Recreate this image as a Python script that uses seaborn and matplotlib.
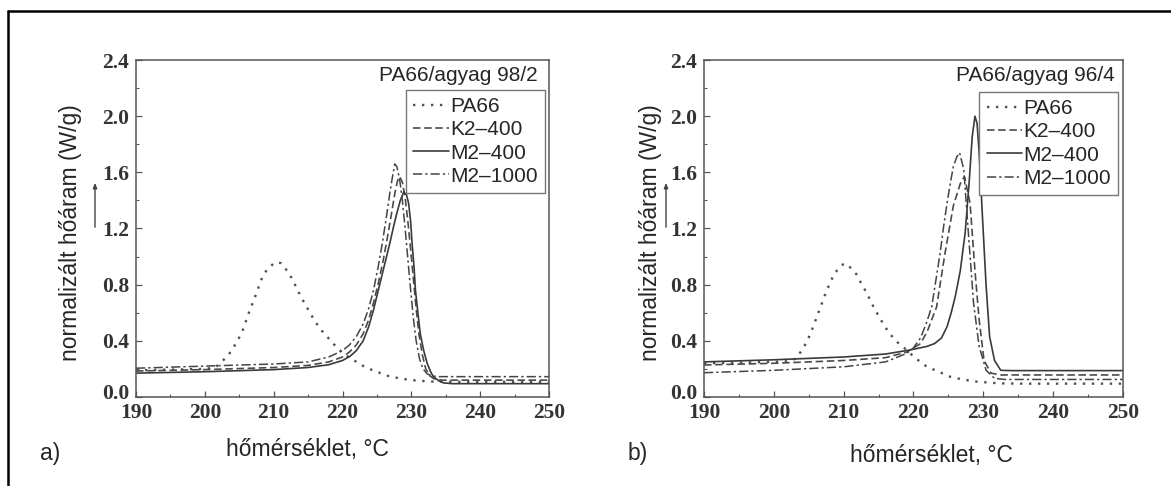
import numpy as np
import pandas as pd
import matplotlib
matplotlib.use("Agg")
import matplotlib.pyplot as plt
import matplotlib.transforms as mtrans
from matplotlib.lines import Line2D
from matplotlib.patches import FancyArrowPatch
import seaborn as sns

sns.set_style("ticks")
plt.rcParams['font.family'] = ['Liberation Sans', 'DejaVu Sans']

# --- panel a) PA66/agyag 98/2 ---
T_pa66_a = [190, 195, 200, 201.5, 202.3, 203.4, 204.2, 204.9, 205.5, 206.4, 207.3, 208.2, 208.9, 210.0, 210.5,
            211.1, 212.1, 212.8, 213.4, 214.0, 214.7, 215.4, 216.1, 217.0, 218.1, 219.2, 220.4, 221.6, 222.7,
            224.3, 226.9, 229.8, 232.7, 236, 240, 245, 250]
Y_pa66_a = [0.19, 0.195, 0.2, 0.21, 0.244, 0.297, 0.356, 0.415, 0.475, 0.600, 0.714, 0.835, 0.897, 0.952, 0.96,
            0.952, 0.890, 0.831, 0.769, 0.710, 0.650, 0.589, 0.532, 0.472, 0.411, 0.351, 0.30, 0.264, 0.228,
            0.192, 0.145, 0.121, 0.110, 0.108, 0.108, 0.108, 0.108]

T_k2_a = [190, 200, 210, 215, 218, 220, 221, 222, 223, 223.8, 224.5, 225.2, 225.9, 226.5, 227.1, 227.6, 228.0,
          228.3, 228.7, 229.1, 229.5, 229.9, 230.3, 230.7, 231.1, 231.6, 232.1, 232.7, 233.3, 234.5, 240, 250]
Y_k2_a = [0.185, 0.195, 0.21, 0.225, 0.25, 0.285, 0.32, 0.37, 0.45, 0.55, 0.67, 0.81, 0.97, 1.13, 1.30, 1.45, 1.54,
          1.57, 1.53, 1.42, 1.25, 1.05, 0.84, 0.63, 0.45, 0.30, 0.20, 0.15, 0.13, 0.12, 0.12, 0.12]

T_m2_a = [190, 200, 210, 215, 218, 220, 221.1, 222, 223.0, 223.8, 224.5, 225.1, 225.7, 226.3, 226.9, 227.4, 227.9,
          228.4, 228.9, 229.3, 229.6, 229.9, 230.1, 230.4, 230.6, 231.0, 231.3, 231.8, 232.3, 232.8, 233.2, 234.0,
          234.7, 236, 240, 250]
Y_m2_a = [0.17, 0.18, 0.195, 0.21, 0.23, 0.26, 0.29, 0.33, 0.40, 0.50, 0.62, 0.74, 0.86, 0.98, 1.10, 1.21, 1.31,
          1.40, 1.46, 1.44, 1.38, 1.25, 1.10, 0.92, 0.76, 0.58, 0.45, 0.33, 0.24, 0.18, 0.145, 0.115,
          0.10, 0.095, 0.095, 0.095]

T_m21000_a = [190, 200, 210, 215, 218, 220, 221, 222, 223, 223.8, 224.5, 225.2, 225.8, 226.4, 226.9, 227.3, 227.6,
              227.9, 228.3, 228.7, 229.1, 229.5, 229.9, 230.3, 230.7, 231.2, 231.7, 232.3, 233, 234, 240, 250]
Y_m21000_a = [0.205, 0.22, 0.235, 0.25, 0.285, 0.33, 0.37, 0.43, 0.52, 0.63, 0.76, 0.93, 1.10, 1.29, 1.46, 1.58,
              1.66, 1.64, 1.55, 1.40, 1.20, 0.98, 0.76, 0.56, 0.40, 0.27, 0.20, 0.165, 0.15, 0.145, 0.145, 0.145]

# --- panel b) PA66/agyag 96/4 ---
T_pa66_b = [190, 195, 200, 202.3, 203.2, 204.1, 204.8, 205.3, 205.8, 206.2, 206.7, 207.1, 207.6, 208.1, 208.7,
            209.7, 210.3, 210.8, 211.9, 212.5, 213.2, 213.8, 214.4, 215.1, 215.8, 216.6, 217.7, 218.9, 220.2,
            221.9, 223.6, 225.2, 227, 229.1, 232.4, 236, 240, 245, 250]
Y_pa66_b = [0.24, 0.245, 0.25, 0.255, 0.275, 0.34, 0.40, 0.46, 0.52, 0.58, 0.64, 0.70, 0.76, 0.82, 0.88,
            0.94, 0.95, 0.93, 0.87, 0.81, 0.75, 0.69, 0.63, 0.57, 0.51, 0.45, 0.39, 0.34, 0.28,
            0.216, 0.18, 0.145, 0.125, 0.109, 0.097, 0.095, 0.095, 0.095, 0.095]

T_k2_b = [190, 200, 210, 216, 219, 221, 222, 222.6, 223.3, 224.5, 225.7, 226.7, 227.3, 228.1, 228.8, 229.4,
          230.1, 231.1, 232.5, 240, 250]
Y_k2_b = [0.228, 0.24, 0.26, 0.28, 0.32, 0.38, 0.47, 0.55, 0.64, 1.02, 1.36, 1.52, 1.57, 1.38, 0.90, 0.55,
          0.26, 0.17, 0.157, 0.157, 0.157]

T_m2_b = [190, 200, 210, 216, 219.5, 221.9, 223.0, 224.0, 224.8, 225.4, 226.0, 226.7, 227.4, 228.0, 228.4, 228.8,
          229.1, 229.4, 229.9, 230.4, 230.9, 231.6, 232.5, 234, 240, 250]
Y_m2_b = [0.25, 0.265, 0.285, 0.306, 0.335, 0.36, 0.38, 0.42, 0.50, 0.60, 0.72, 0.90, 1.17, 1.55, 1.85, 2.00,
          1.95, 1.74, 1.26, 0.79, 0.43, 0.26, 0.19, 0.188, 0.188, 0.188]

T_m21000_b = [190, 200, 210, 216, 219, 220, 221, 221.8, 222.6, 223.2, 223.8, 224.3, 224.8, 225.3, 225.7, 226.2,
              226.6, 227.2, 227.9, 228.6, 229.4, 230.4, 231.6, 233, 240, 250]
Y_m21000_b = [0.173, 0.19, 0.215, 0.25, 0.31, 0.35, 0.42, 0.52, 0.64, 0.83, 1.02, 1.21, 1.38, 1.53, 1.64, 1.71,
              1.74, 1.62, 1.14, 0.67, 0.36, 0.19, 0.133, 0.125, 0.125, 0.125]

labels = ["PA66", "K2\u2013400", "M2\u2013400", "M2\u20131000"]
styles = [(0, (1, 2.8)), (0, (4.5, 2.2)), "-", (0, (6, 2, 1.5, 2))]
widths = [1.7, 1.2, 1.2, 1.1]
colors = ["#505050", "#4a4a4a", "#3a3a3a", "#444444"]
xticks = [190, 200, 210, 220, 230, 240, 250]
yticks = [0.0, 0.4, 0.8, 1.2, 1.6, 2.0, 2.4]

W, H = 1171, 486
serif = {'family': 'Liberation Serif', 'weight': 'bold', 'size': 15.5}


def panel(_ax, _series, _title, _tx, _lx, _ly):
    handles = []
    for i, (tt, yy) in enumerate(_series):
        df = pd.DataFrame({"T": tt, "Y": yy})
        sns.lineplot(data=df, x="T", y="Y", ax=_ax, color=colors[i], linestyle=styles[i],
                     linewidth=widths[i], estimator=None, sort=False)
        handles.append(Line2D([], [], color=colors[i], linestyle=styles[i], linewidth=widths[i]))
    _ax.set_xlim(190, 250)
    _ax.set_ylim(0, 2.4)
    _ax.set_xticks(xticks)
    _ax.set_yticks(yticks)
    _ax.set_xticks(np.arange(195, 250, 10), minor=True)
    _ax.set_yticks(np.arange(0.2, 2.4, 0.4), minor=True)
    _ax.set_xticklabels([str(t) for t in xticks], fontdict=serif, color="#333333")
    _ax.set_yticklabels(["%.1f" % t for t in yticks], fontdict=serif, color="#333333")
    _ax.tick_params(which='major', direction='in', length=4.5, width=0.9, color='#555555')
    _ax.tick_params(which='minor', direction='in', length=2.5, width=0.8, color='#555555')
    _ax.tick_params(axis='x', pad=4)
    _ax.tick_params(axis='y', pad=5)
    # the 0.0 label sits a little higher, as in the original
    lab0 = _ax.get_yticklabels()[0]
    lab0.set_transform(lab0.get_transform() + mtrans.ScaledTranslation(0, 6 / 100, fig.dpi_scale_trans))
    _ax.set_xlabel("")
    _ax.set_ylabel("")
    for sp in _ax.spines.values():
        sp.set_color('#555555')
        sp.set_linewidth(1.1)
    _ax.text(_tx, 0.955, _title, transform=_ax.transAxes, ha='right', va='center', fontsize=15)
    leg = _ax.legend(handles, labels, loc='upper right', bbox_to_anchor=(_lx, _ly), borderaxespad=0,
                     fontsize=15, handlelength=1.7, handletextpad=0.05, labelspacing=0.2,
                     borderpad=0.35, fancybox=False, framealpha=1)
    leg.get_frame().set_edgecolor('#777777')
    leg.get_frame().set_linewidth(1.0)
    return _ax


fig = plt.figure(figsize=(W / 100, H / 100), dpi=100)
ax_a = fig.add_axes([136 / W, (H - 397) / H, 413 / W, 337 / H])
ax_b = fig.add_axes([704 / W, (H - 397) / H, 419 / W, 337 / H])

panel(ax_a, [(T_pa66_a, Y_pa66_a), (T_k2_a, Y_k2_a), (T_m2_a, Y_m2_a), (T_m21000_a, Y_m21000_a)],
      "PA66/agyag 98/2", 0.972, 0.990, 0.911)
panel(ax_b, [(T_pa66_b, Y_pa66_b), (T_k2_b, Y_k2_b), (T_m2_b, Y_m2_b), (T_m21000_b, Y_m21000_b)],
      "PA66/agyag 96/4", 0.981, 0.988, 0.905)

# outer frame (top + left)
fig.add_artist(Line2D([8 / W, 1.0], [1 - 11 / H, 1 - 11 / H], color='k', linewidth=1.8))
fig.add_artist(Line2D([8 / W, 8 / W], [0.0, 1 - 11 / H], color='k', linewidth=1.8))


def px(x, y):
    return x / W, 1 - y / H


for xl, xa, xx, yy, lab, lx in [(71, 95, 307, 449, "a)", 50), (650, 666, 931, 455, "b)", 638)]:
    fig.text(*px(xl, 233), "normaliz\u00e1lt h\u0151\u00e1ram (W/g)", rotation=90, ha='center', va='center', fontsize=16.5)
    fig.text(*px(xx, yy), "h\u0151m\u00e9rs\u00e9klet, \u00b0C", ha='center', va='center', fontsize=16.5)
    fig.text(*px(lx, 453), lab, ha='center', va='center', fontsize=16.5)
    fig.add_artist(FancyArrowPatch(px(xa, 230), px(xa, 180), arrowstyle='-|>,head_length=3,head_width=1.2',
                                   color='#444444', linewidth=1.0, transform=fig.transFigure))

plt.savefig("out.png", dpi=100)
plt.close()
